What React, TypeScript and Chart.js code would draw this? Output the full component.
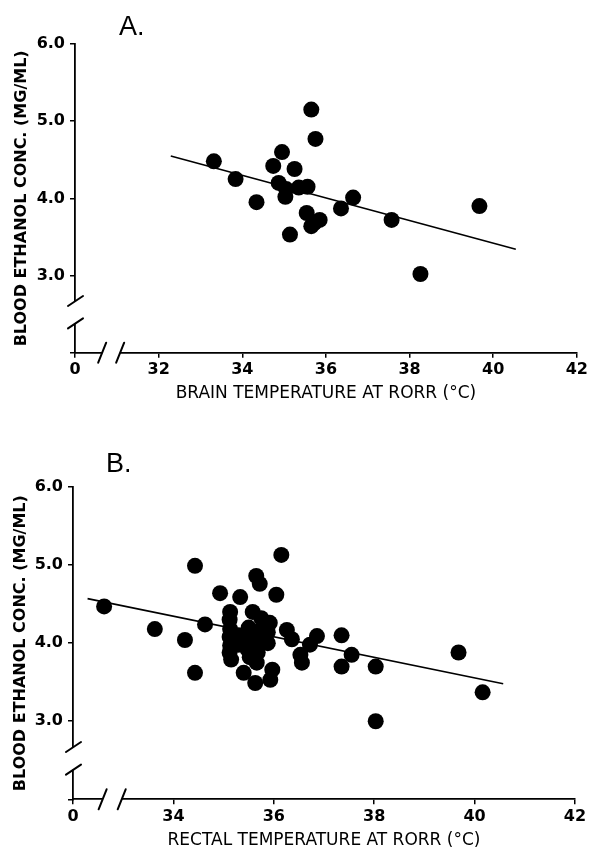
import React, { useEffect, useRef } from 'react';
import { Chart, registerables } from 'chart.js';

Chart.register(...registerables);

// ---------- Panel A data (brain temperature) ----------
const brainTempA = [33.32, 33.84, 34.34, 34.74, 34.95, 35.25, 34.87, 35.05, 35.03, 35.35, 35.56, 35.14, 35.54, 35.65, 35.75, 35.72, 35.85, 35.65, 36.36, 36.65, 37.57, 39.67, 38.26];
const ethanolA = [4.48, 4.25, 3.95, 4.42, 4.6, 4.38, 4.2, 4.12, 4.02, 4.14, 4.15, 3.53, 3.81, 5.15, 4.77, 3.68, 3.72, 3.64, 3.87, 4.01, 3.72, 3.9, 3.02];
const fitXA = [32.29, 40.54];
const fitYA = [4.55, 3.34];

// ---------- Panel B data (rectal temperature) ----------
const rectalTempB = [
  32.62, 33.63, 34.23, 34.43, 34.43, 34.63, 34.93, 35.33, 35.65, 35.72, 36.15, 36.05,
  35.13, 35.12, 35.13, 35.12, 35.13, 35.12, 35.15, 35.3, 35.3,
  35.58, 35.5, 35.48, 35.48, 35.52,
  35.75, 35.7, 35.7, 35.68, 35.66,
  35.92, 35.88, 35.88,
  35.4, 35.63, 35.97, 35.93,
  36.26, 36.36, 36.53, 36.56, 36.72, 36.86,
  37.35, 37.55, 37.35, 38.03, 38.03, 39.68, 40.16,
];
const ethanolB = [
  4.47, 4.18, 4.04, 4.99, 3.62, 4.24, 4.64, 4.59, 4.86, 4.76, 5.13, 4.62,
  4.4, 4.3, 4.18, 4.08, 3.97, 3.88, 3.79, 4.1, 3.98,
  4.4, 4.2, 4.05, 3.92, 3.82,
  4.32, 4.15, 4.0, 3.88, 3.75,
  4.26, 4.14, 4.0,
  3.62, 3.49, 3.66, 3.53,
  4.17, 4.05, 3.85, 3.75, 3.98, 4.09,
  4.1, 3.85, 3.7, 3.7, 3.0, 3.88, 3.37,
];
const fitXB = [32.29, 40.57];
const fitYB = [4.57, 3.48];

// ---------- Axes ----------
const xTicksA = [30, 32, 34, 36, 38, 40, 42];
const xTickLabelsA = ['0', '32', '34', '36', '38', '40', '42'];
const xTicksB = [32, 34, 36, 38, 40, 42];
const xTickLabelsB = ['0', '34', '36', '38', '40', '42'];
const yTicks = [2, 3, 4, 5, 6];
const yTickLabels = ['', '3.0', '4.0', '5.0', '6.0'];
const yTitle = 'BLOOD ETHANOL CONC. (MG/ML)';
const xTitleA = 'BRAIN TEMPERATURE AT RORR (°C)';
const xTitleB = 'RECTAL TEMPERATURE AT RORR (°C)';
const yBreak = [2.38, 2.67];
const xBreakA = [30.65, 31.08];
const xBreakB = [32.59, 32.97];

const decorPlugin = {
  id: 'decor',
  afterDraw(chart: any, _args: any, opts: any) {
    const { ctx, chartArea } = chart;
    const xs = chart.scales.x;
    const ys = chart.scales.y;
    const ax = chartArea.left;
    const ay = chartArea.bottom;
    ctx.save();
    // y-axis break
    const y1 = ys.getPixelForValue(opts.yBreak[0]);
    const y2 = ys.getPixelForValue(opts.yBreak[1]);
    ctx.fillStyle = '#fff';
    ctx.fillRect(ax - 3, y2, 6, y1 - y2);
    // x-axis break
    const x1 = xs.getPixelForValue(opts.xBreak[0]);
    const x2 = xs.getPixelForValue(opts.xBreak[1]);
    ctx.fillRect(x1, ay - 3, x2 - x1, 6);
    ctx.strokeStyle = '#000';
    ctx.lineWidth = 2;
    ctx.lineCap = 'round';
    [y1, y2].forEach((y) => {
      ctx.beginPath();
      ctx.moveTo(ax - 7, y + 5);
      ctx.lineTo(ax + 8, y - 5);
      ctx.stroke();
    });
    [x1, x2].forEach((x) => {
      ctx.beginPath();
      ctx.moveTo(x - 4, ay + 10);
      ctx.lineTo(x + 4, ay - 10);
      ctx.stroke();
    });
    // panel label
    ctx.fillStyle = '#000';
    ctx.font = '27px "Liberation Sans", sans-serif';
    ctx.textBaseline = 'alphabetic';
    ctx.textAlign = 'left';
    ctx.fillText(opts.label, opts.labelX, opts.labelY);
    ctx.restore();
  },
};

interface PanelProps {
  height: number;
  xs: number[];
  ys: number[];
  fitX: number[];
  fitY: number[];
  xTicks: number[];
  xTickLabels: string[];
  xTitle: string;
  xBreak: number[];
  label: string;
  labelX: number;
  labelY: number;
  padTop: number;
  padRight: number;
  yWidth: number;
  xHeight: number;
  xTitlePad: number;
  yTitlePad: number;
}

function Panel(p: PanelProps) {
  const ref = useRef<HTMLCanvasElement | null>(null);
  useEffect(() => {
    if (!ref.current) return;
    const points = p.xs.map((x, i) => ({ x, y: p.ys[i] }));
    const fit = p.fitX.map((x, i) => ({ x, y: p.fitY[i] }));
    const tickFont = { family: '"DejaVu Sans", sans-serif', size: 16, weight: 'bold' as const };
    const chart = new Chart(ref.current, {
      type: 'scatter',
      data: {
        datasets: [
          {
            data: points,
            pointRadius: 8,
            pointHoverRadius: 8,
            backgroundColor: '#000',
            borderWidth: 0,
          },
          {
            data: fit,
            showLine: true,
            pointRadius: 0,
            borderColor: '#000',
            borderWidth: 1.6,
            fill: false,
          } as any,
        ],
      },
      options: {
        responsive: false,
        maintainAspectRatio: false,
        animation: false,
        devicePixelRatio: 1,
        layout: { padding: { top: p.padTop, right: p.padRight, left: 0, bottom: 0 } },
        plugins: {
          legend: { display: false },
          tooltip: { enabled: false },
          decor: {
            yBreak,
            xBreak: p.xBreak,
            label: p.label,
            labelX: p.labelX,
            labelY: p.labelY,
          },
        } as any,
        scales: {
          x: {
            type: 'linear',
            min: p.xTicks[0],
            max: p.xTicks[p.xTicks.length - 1],
            afterBuildTicks: (s: any) => {
              s.ticks = p.xTicks.map((v) => ({ value: v }));
            },
            afterFit: (s: any) => {
              s.height = p.xHeight;
            },
            ticks: {
              autoSkip: false,
              maxRotation: 0,
              color: '#000',
              font: tickFont,
              padding: 3,
              callback: (v: any) => p.xTickLabels[p.xTicks.indexOf(Number(v))],
            },
            grid: { display: true, drawOnChartArea: false, drawTicks: true, tickLength: 5, color: '#000', lineWidth: 1.5 },
            border: { display: true, color: '#000', width: 1.8 },
            title: {
              display: true,
              text: p.xTitle,
              color: '#000',
              font: { family: '"DejaVu Sans", sans-serif', size: 17, weight: 'normal' },
              padding: { top: 0, bottom: p.xTitlePad },
            },
          },
          y: {
            type: 'linear',
            min: yTicks[0],
            max: yTicks[yTicks.length - 1],
            afterBuildTicks: (s: any) => {
              s.ticks = yTicks.map((v) => ({ value: v }));
            },
            afterFit: (s: any) => {
              s.width = p.yWidth;
            },
            ticks: {
              color: '#000',
              font: tickFont,
              padding: 5,
              callback: (v: any) => yTickLabels[yTicks.indexOf(Number(v))],
            },
            grid: { display: true, drawOnChartArea: false, drawTicks: true, tickLength: 5, color: '#000', lineWidth: 1.5 },
            border: { display: true, color: '#000', width: 1.8 },
            title: {
              display: true,
              text: yTitle,
              color: '#000',
              font: { family: '"DejaVu Sans", sans-serif', size: 16, weight: 'bold' },
              padding: { top: p.yTitlePad, bottom: 0 },
            },
          },
        },
      },
      plugins: [decorPlugin],
    });
    return () => chart.destroy();
  }, []);
  return <canvas ref={ref} width={591} height={p.height} style={{ display: 'block', width: 591, height: p.height }} />;
}

export default function App() {
  return (
    <div style={{ position: 'absolute', left: 0, top: 0, width: 591, height: 853, background: '#fff' }}>
      <Panel
        height={420}
        xs={brainTempA}
        ys={ethanolA}
        fitX={fitXA}
        fitY={fitYA}
        xTicks={xTicksA}
        xTickLabels={xTickLabelsA}
        xTitle={xTitleA}
        xBreak={xBreakA}
        label="A."
        labelX={119}
        labelY={35}
        padTop={44}
        padRight={14}
        yWidth={75}
        xHeight={67.3}
        xTitlePad={15.8}
        yTitlePad={12.4}
      />
      <Panel
        height={433}
        xs={rectalTempB}
        ys={ethanolB}
        fitX={fitXB}
        fitY={fitYB}
        xTicks={xTicksB}
        xTickLabels={xTickLabelsB}
        xTitle={xTitleB}
        xBreak={xBreakB}
        label="B."
        labelX={106}
        labelY={52}
        padTop={67}
        padRight={16}
        yWidth={73}
        xHeight={53.7}
        xTitlePad={1.8}
        yTitlePad={11}
      />
    </div>
  );
}
